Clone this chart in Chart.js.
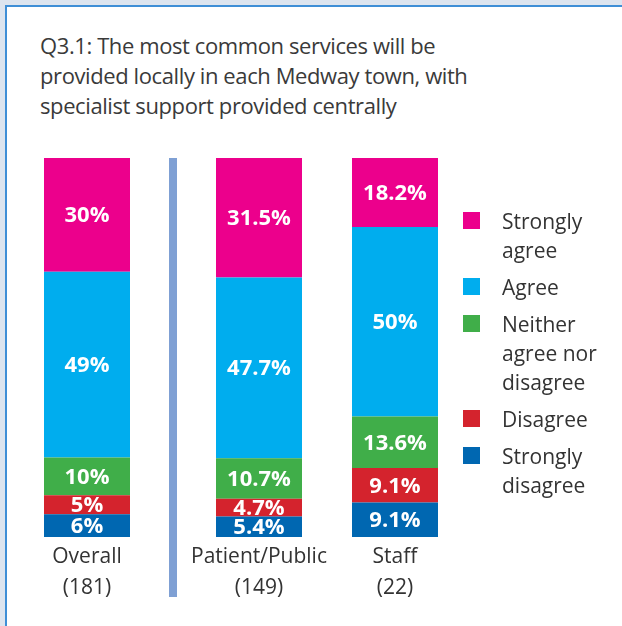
<!DOCTYPE html>
<html>
<head>
<meta charset="utf-8">
<script src="https://cdn.jsdelivr.net/npm/chart.js@4"></script>
<style>
  body { margin: 0; width: 622px; height: 626px; overflow: hidden; background: #dde5ef; font-family: "Open Sans", sans-serif; color: #333; }
  #panel { position: absolute; left: 5px; top: 5px; right: -20px; bottom: -20px; background: #fff; border-left: 2px solid #3f8fd6; border-top: 2px solid #3f8fd6; }
  #title { position: absolute; left: 40px; top: 30px; font-size: 22px; letter-spacing: -0.4px; line-height: 30px; color: #3a3a3a; margin: 0; font-weight: normal; }
  canvas { position: absolute; }
  #divider { position: absolute; left: 169px; top: 158px; width: 8px; height: 439px; background: #7fa0d4; }
  #legend { position: absolute; left: 463px; top: 207px; width: 150px; }
  .item { display: flex; align-items: flex-start; margin-bottom: 8px; }
  .item .box { width: 17px; height: 17px; margin-top: 5px; flex: none; }
  .item .txt { margin-left: 22px; width: 105px; font-size: 21px; line-height: 29px; color: #333; }
</style>
</head>
<body>
<div id="panel"></div>
<h1 id="title">Q3.1: The most common services will be<br>provided locally in each Medway town, with<br>specialist support provided centrally</h1>
<canvas id="overallChart" width="156" height="460" style="left:9px; top:150px"></canvas>
<div id="divider"></div>
<canvas id="groupChart" width="292" height="460" style="left:181px; top:150px"></canvas>
<div id="legend"></div>

<script>
// respondent groups
const categories = ['Overall', 'Patient/Public', 'Staff'];
const respondents = [181, 149, 22];

// answers in percent, one value per group
const stronglyAgree = [30, 31.5, 18.2];
const agree = [49, 47.7, 50];
const neither = [10, 10.7, 13.6];
const disagree = [5, 4.7, 9.1];
const stronglyDisagree = [6, 5.4, 9.1];

// stacked from the bottom up
const series = [
    { name: 'Strongly disagree', values: stronglyDisagree, color: '#0067b1' },
    { name: 'Disagree', values: disagree, color: '#d4232d' },
    { name: 'Neither agree nor disagree', values: neither, color: '#40ae49' },
    { name: 'Agree', values: agree, color: '#00adee' },
    { name: 'Strongly agree', values: stronglyAgree, color: '#ec008c' },
];

// white percentage in the middle of every segment
const valueLabels = {
    id: 'valueLabels',
    afterDatasetsDraw(chart) {
        const { ctx, chartArea } = chart;
        ctx.save();
        ctx.beginPath();
        ctx.rect(chartArea.left, chartArea.top, chartArea.width, chartArea.height);
        ctx.clip();
        ctx.font = 'bold 22px "Open Sans"';
        ctx.fillStyle = '#fff';
        ctx.textAlign = 'center';
        ctx.textBaseline = 'middle';
        chart.data.datasets.forEach((ds, di) => {
            chart.getDatasetMeta(di).data.forEach((bar, i) => {
                ctx.fillText(ds.data[i] + '%', bar.x, (bar.y + bar.base) / 2 + 1);
            });
        });
        ctx.restore();
    }
};

function makeChart(canvasId, idx) {
    return new Chart(document.getElementById(canvasId), {
        type: 'bar',
        data: {
            labels: idx.map(i => [categories[i], '(' + respondents[i] + ')']),
            datasets: series.map(s => ({
                label: s.name,
                data: idx.map(i => s.values[i]),
                backgroundColor: s.color,
                barPercentage: 86 / 136,
                categoryPercentage: 1,
            })),
        },
        options: {
            responsive: false,
            animation: false,
            layout: { padding: { top: 8, left: 10, right: 10, bottom: 2 } },
            plugins: { legend: { display: false }, tooltip: { enabled: false } },
            scales: {
                x: {
                    stacked: true,
                    grid: { display: false, drawTicks: false },
                    border: { display: false },
                    ticks: {
                        padding: 4,
                        color: '#333',
                        maxRotation: 0,
                        minRotation: 0,
                        autoSkip: false,
                        font: { family: 'Open Sans', size: 21, lineHeight: 1.5 },
                    },
                },
                y: { stacked: true, display: false, min: 0, max: 100 },
            },
        },
        plugins: [valueLabels],
    });
}

makeChart('overallChart', [0]);
makeChart('groupChart', [1, 2]);

// legend, top to bottom
const legend = document.getElementById('legend');
series.slice().reverse().forEach(s => {
    const item = document.createElement('div');
    item.className = 'item';
    item.innerHTML = '<div class="box" style="background:' + s.color + '"></div><div class="txt">' + s.name + '</div>';
    legend.appendChild(item);
});
</script>
</body>
</html>
